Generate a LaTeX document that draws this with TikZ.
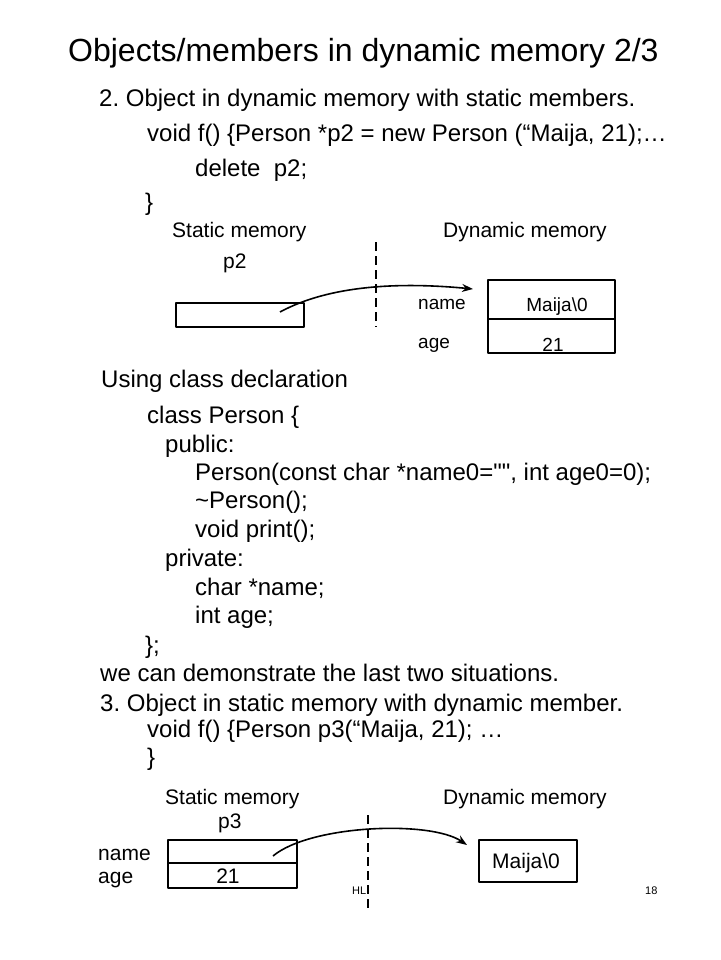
\documentclass[tikz,border=0pt]{standalone}
\usepackage{fontspec}
\setmainfont{Liberation Sans}
\usetikzlibrary{arrows.meta}
\newcommand{\fsz}[1]{\fontsize{#1}{#1}\selectfont}
\frenchspacing
\begin{document}
\begin{tikzpicture}[x=1pt, y=-1pt, >={Stealth[length=11pt, width=8pt]}, line join=round,
	heading/.style={anchor=base west, inner sep=0pt, font=\fsz{32}},
	body/.style={anchor=base west, inner sep=0pt, font=\fsz{24}},
	lbl/.style={anchor=base west, inner sep=0pt, font=\fsz{21}},
	small/.style={anchor=base west, inner sep=0pt, font=\fsz{19}},
	tiny/.style={anchor=base west, inner sep=0pt, font=\fsz{11}},
	cell/.style={draw, line width=1.6pt, inner sep=0pt, rectangle},
	ptr/.style={->, line width=1.6pt},
	divide/.style={line width=1.6pt, dash pattern=on 9pt off 5pt}]
	\useasboundingbox[fill=white] (0,0) rectangle (720,960);
	\node[heading] (title) at (68,62) {Objects/members in dynamic memory 2/3};
	\node[body] (case2) at (99,107) {2. Object in dynamic memory with static members.};
	\node[body] (code2a) at (147,142) {void f() \{Person *p2 = new Person (“Maija, 21);…};
	\node[body] (code2b) at (195,176) {delete\ \ p2;};
	\node[body] (code2c) at (145,210) {\}};
	\node[lbl] (static2) at (172,237) {Static memory};
	\node[lbl] (dynamic2) at (443,237) {Dynamic memory};
	\node[lbl] (p2) at (223,268) {p2};
	\node[cell, minimum width=128pt, minimum height=24pt] (p2box) at (240,315) {};
	\draw[divide] (376,242) coordinate (cut2top) -- (376,327) coordinate (cut2bot);
	\node[cell, minimum width=127pt, minimum height=39pt] (namecell) at (551.5,299.5) {};
	\node[cell, minimum width=127pt, minimum height=34pt] (agecell) at (551.5,336) {};
	\node[small] (name2) at (418,309) {name};
	\node[small] (age2) at (418,348) {age};
	\node[small, anchor=base] (maija2) at (557,311) {Maija\textbackslash 0};
	\node[small, anchor=base] (num2) at (553,351) {21};
	\coordinate (p2from) at (280,312);
	\coordinate (p2to) at (473,289);
	\draw[ptr] (p2from) .. controls (330,285) and (400,282) .. (p2to);
	\node[body] (using) at (101,387) {Using class declaration};
	\node[body] (cls) at (147,423) {class Person \{};
	\node[body] (pub) at (165,452) {public:};
	\node[body] (ctor) at (195,480) {Person(const char *name0=\textquotedbl\textquotedbl, int age0=0);};
	\node[body] (dtor) at (195,508) {\textasciitilde Person();};
	\node[body] (prn) at (195,537) {void print();};
	\node[body] (priv) at (165,566) {private:};
	\node[body] (mname) at (195,595) {char *name;};
	\node[body] (mage) at (195,623) {int age;};
	\node[body] (clsend) at (145,653) {\};};
	\node[body] (demo) at (100,681) {we can demonstrate the last two situations.};
	\node[body] (case3) at (100,711) {3. Object in static memory with dynamic member.};
	\node[body] (code3a) at (147,737) {void f() \{Person p3(“Maija, 21); …};
	\node[body] (code3b) at (147,765) {\}};
	\node[lbl] (static3) at (165,804) {Static memory};
	\node[lbl] (dynamic3) at (443,804) {Dynamic memory};
	\node[lbl] (p3) at (218,828) {p3};
	\node[lbl] (name3) at (98,860) {name};
	\node[lbl] (age3) at (98,883) {age};
	\node[cell, minimum width=129pt, minimum height=23pt] (namebox) at (232.5,851.5) {};
	\node[cell, minimum width=129pt, minimum height=25pt] (agebox) at (232.5,875.5) {};
	\node[lbl, anchor=base] (num3) at (228,883) {21};
	\draw[divide] (368,815) coordinate (cut3top) -- (368,908) coordinate (cut3bot);
	\node[cell, minimum width=98pt, minimum height=42pt] (heapbox) at (528,861) {};
	\node[lbl] (maija3) at (492,868) {Maija\textbackslash 0};
	\coordinate (p3from) at (273,856);
	\coordinate (p3to) at (467,845);
	\draw[ptr] (p3from) .. controls (310,825) and (430,820) .. (p3to);
	\node[tiny] (initials) at (352,894) {HL};
	\node[tiny] (pageno) at (645,894) {18};
\end{tikzpicture}
\end{document}
